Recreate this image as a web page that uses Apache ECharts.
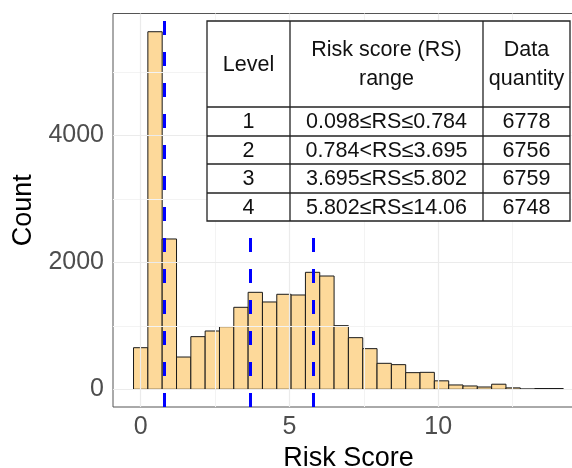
<!DOCTYPE html>
<html>
<head>
<meta charset="utf-8">
<script src="https://cdn.jsdelivr.net/npm/echarts@6/dist/echarts.min.js"></script>
<style>
html,body{margin:0;padding:0;background:#fff;}
#chart{width:572px;height:468px;}
</style>
</head>
<body>
<div id="chart"></div>
<script>
// ---- data ----
var binEdges = [-0.241, 0.241, 0.722, 1.204, 1.685, 2.166, 2.648, 3.129, 3.611, 4.092,
  4.574, 5.055, 5.537, 6.018, 6.500, 6.981, 7.463, 7.944, 8.426, 8.907, 9.389, 9.870,
  10.352, 10.833, 11.314, 11.796, 12.277, 12.759, 13.240, 13.722, 14.203];
var binCounts = [655, 5631, 2367, 508, 829, 918, 986, 1291, 1527, 1375, 1496, 1485,
  1842, 1784, 1002, 813, 640, 409, 388, 262, 267, 133, 68, 52, 36, 80, 22, 5, 12, 12];
var thresholds = [0.784, 3.695, 5.802];
var xTicks = [0, 5, 10];
var xMinorGrid = [2.5, 7.5, 12.5];
var yTicks = [0, 2000, 4000];
var yMinorGrid = [1000, 3000, 5000];
var tableHeader = ['Level', 'Risk score (RS)\nrange', 'Data\nquantity'];
var tableLevels = ['1', '2', '3', '4'];
var tableRanges = ['0.098≤RS≤0.784', '0.784<RS≤3.695', '3.695≤RS≤5.802', '5.802≤RS≤14.06'];
var tableCounts = ['6778', '6756', '6759', '6748'];

var histData = binCounts.map(function (c, i) { return [binEdges[i], binEdges[i + 1], c]; });

// ---- table graphic ----
var tblLeft = 207, tblRight = 570, tblTop = 21, colX = [207, 290, 483, 570];
var rowY = [21, 107, 136, 164, 193, 221];
var colCenters = [(colX[0] + colX[1]) / 2, (colX[1] + colX[2]) / 2, (colX[2] + colX[3]) / 2];
var tableFont = '"Liberation Sans", "DejaVu Sans", sans-serif';
var TZ = 100;
var tblEls = [];
tblEls.push({ type: 'rect', z: TZ, shape: { x: tblLeft, y: tblTop, width: tblRight - tblLeft, height: rowY[5] - tblTop },
  style: { fill: '#ffffff', stroke: '#222', lineWidth: 1.3 } });
for (var r = 1; r < rowY.length - 1; r++) {
  tblEls.push({ type: 'line', z: TZ + 1, shape: { x1: tblLeft, y1: rowY[r], x2: tblRight, y2: rowY[r] },
    style: { stroke: '#222', lineWidth: 1.3 } });
}
for (var c = 1; c < colX.length - 1; c++) {
  tblEls.push({ type: 'line', z: TZ + 1, shape: { x1: colX[c], y1: tblTop, x2: colX[c], y2: rowY[5] },
    style: { stroke: '#222', lineWidth: 1.3 } });
}
function cellText(txt, cx, cy) {
  return { type: 'text', z: TZ + 2, x: cx, y: cy, style: { text: txt, align: 'center', verticalAlign: 'middle',
    font: '21.5px ' + tableFont, fill: '#111', lineHeight: 29 } };
}
tableHeader.forEach(function (t, i) { tblEls.push(cellText(t, colCenters[i], (rowY[0] + rowY[1]) / 2 + 1)); });
for (var k = 0; k < 4; k++) {
  var cy = (rowY[k + 1] + rowY[k + 2]) / 2 + 1;
  tblEls.push(cellText(tableLevels[k], colCenters[0], cy));
  tblEls.push(cellText(tableRanges[k], colCenters[1], cy));
  tblEls.push(cellText(tableCounts[k], colCenters[2], cy));
}

var gridMajor = '#EBEBEB', gridMinor = '#F3F3F3';
function gl(arr, key, color, w) {
  return arr.map(function (v) { var o = {}; o[key] = v; o.lineStyle = { color: color, width: w, type: 'solid' }; return o; });
}
function plain(v) { return String(v); }

var chart = echarts.init(document.getElementById('chart'), null, { renderer: 'canvas' });
chart.setOption({
  animation: false,
  backgroundColor: '#ffffff',
  grid: { left: 113, right: -12, top: 13.5, bottom: 61, show: true, borderColor: '#555', borderWidth: 1,
    backgroundColor: 'transparent', containLabel: false, outerBoundsMode: 'none' },
  xAxis: {
    type: 'value', min: -0.931, max: 14.9,
    name: 'Risk Score', nameLocation: 'middle', nameGap: 32,
    nameTextStyle: { fontFamily: 'Liberation Sans', fontSize: 27, color: '#000' },
    axisLine: { show: false },
    axisTick: { show: true, customValues: xTicks, length: 4, lineStyle: { color: '#333', width: 1 } },
    axisLabel: { customValues: xTicks, formatter: plain, fontFamily: 'Liberation Sans', fontSize: 25, color: '#4D4D4D', margin: 8 },
    splitLine: { show: false }
  },
  yAxis: {
    type: 'value', min: -279, max: 5918,
    name: 'Count', nameLocation: 'middle', nameGap: 71, nameRotate: 90,
    nameTextStyle: { fontFamily: 'Liberation Sans', fontSize: 27, color: '#000' },
    axisLine: { show: false },
    axisTick: { show: true, customValues: yTicks, length: 4, lineStyle: { color: '#333', width: 1 } },
    axisLabel: { customValues: yTicks, formatter: plain, fontFamily: 'Liberation Sans', fontSize: 25, color: '#4D4D4D', margin: 9 },
    splitLine: { show: false }
  },
  series: [
    {
      type: 'line', data: [], z: 0, silent: true,
      markLine: {
        silent: true, symbol: 'none', label: { show: false }, animation: false,
        data: [].concat(gl(xMinorGrid, 'xAxis', gridMinor, 1), gl(yMinorGrid, 'yAxis', gridMinor, 1),
                        gl(xTicks, 'xAxis', gridMajor, 1.2), gl(yTicks, 'yAxis', gridMajor, 1.2))
      }
    },
    {
      type: 'custom', z: 2, data: histData,
      encode: { x: [0, 1], y: 2 },
      renderItem: function (params, api) {
        var p0 = api.coord([api.value(0), 0]);
        var p1 = api.coord([api.value(1), api.value(2)]);
        return { type: 'rect', shape: { x: p0[0], y: p1[1], width: p1[0] - p0[0], height: p0[1] - p1[1] },
          style: { fill: '#FDD99A', stroke: '#1a1a1a', lineWidth: 1 } };
      }
    },
    {
      type: 'line', data: [], z: 3, silent: true,
      markLine: {
        silent: true, symbol: 'none', label: { show: false }, animation: false,
        lineStyle: { color: '#0000FF', width: 3, type: [14, 17] },
        data: thresholds.map(function (v) { return { xAxis: v }; })
      }
    }
  ],
  graphic: { elements: tblEls }
});
</script>
</body>
</html>
